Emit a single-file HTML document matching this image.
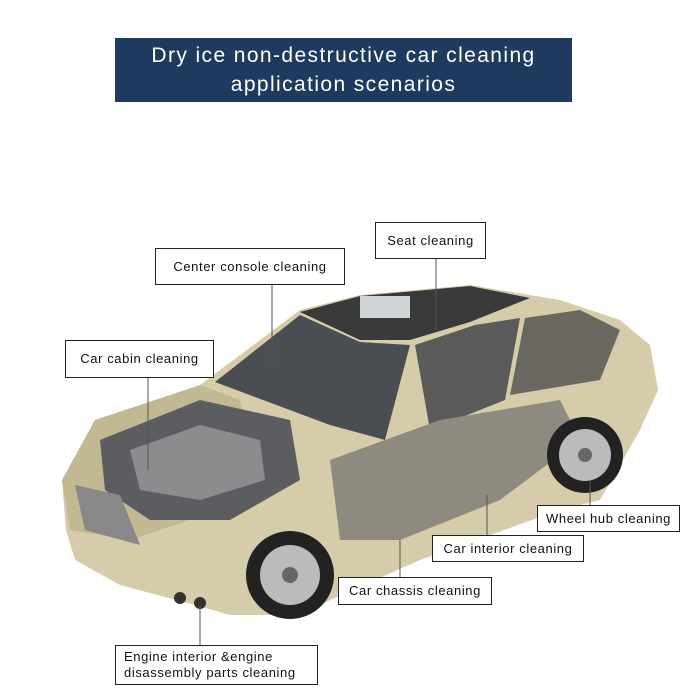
<!DOCTYPE html>
<html><head><meta charset="utf-8"><style>
body{margin:0;background:#fff;}
.wrap{position:relative;width:700px;height:700px;overflow:hidden;background:#fff;font-family:"Liberation Sans",sans-serif;}
.title{position:absolute;left:115px;top:38px;width:457px;height:64px;background:#1e3a5f;color:#fff;font-size:21px;letter-spacing:1.4px;text-align:center;line-height:29px;padding-top:3px;box-sizing:border-box;}
.lb{position:absolute;background:#fff;border:1.5px solid #222;font-size:13px;color:#111;letter-spacing:0.6px;box-sizing:border-box;display:flex;align-items:center;justify-content:center;text-align:center;line-height:16px;}
</style></head><body><div class="wrap">
<div class="title">Dry ice non-destructive car cleaning<br>application scenarios</div>
<svg width="700" height="700" style="position:absolute;left:0;top:0">
<polygon points="62,480 95,420 200,385 300,310 360,295 470,285 560,300 620,320 650,345 658,390 640,430 600,500 560,510 420,560 330,600 300,615 230,615 195,605 120,585 75,560 66,530" fill="#d6ccaa"/>
<polygon points="62,480 95,420 200,385 240,400 250,460 190,520 130,540 70,530" fill="#c2b892"/>
<polygon points="300,312 360,296 470,286 530,298 470,322 410,340 360,340" fill="#3a3a3a"/>
<polygon points="215,382 300,315 360,342 410,345 385,440 330,425" fill="#4a4d52"/>
<polygon points="415,345 475,325 520,318 505,400 430,430" fill="#5a5a5a"/>
<polygon points="525,318 580,310 620,330 600,380 510,395" fill="#6a6660"/>
<rect x="360" y="296" width="50" height="22" fill="#cfd4d6"/>
<polygon points="100,440 200,400 290,420 300,480 230,520 150,520 105,490" fill="#5b5d60"/>
<polygon points="130,450 200,425 260,440 265,480 200,500 140,490" fill="#8a8c8e"/>
<polygon points="330,460 440,420 560,400 580,440 500,500 400,540 340,540" fill="#8e8a80"/>
<polygon points="75,485 120,495 140,545 85,530" fill="#888"/>
<circle cx="290" cy="575" r="44" fill="#222"/><circle cx="290" cy="575" r="30" fill="#bbb"/><circle cx="290" cy="575" r="8" fill="#666"/>
<circle cx="585" cy="455" r="38" fill="#222"/><circle cx="585" cy="455" r="26" fill="#bbb"/><circle cx="585" cy="455" r="7" fill="#666"/>
<circle cx="180" cy="598" r="6" fill="#333"/><circle cx="200" cy="603" r="6" fill="#333"/>
<g stroke="#555" stroke-width="1">
<line x1="436" y1="259" x2="436" y2="330"/>
<line x1="272" y1="285" x2="272" y2="375"/>
<line x1="148" y1="378" x2="148" y2="470"/>
<line x1="590" y1="505" x2="590" y2="480"/>
<line x1="487" y1="535" x2="487" y2="495"/>
<line x1="400" y1="577" x2="400" y2="540"/>
<line x1="200" y1="645" x2="200" y2="605"/>
</g>
</svg>
<div class="lb" style="left:375px;top:222px;width:111px;height:37px">Seat cleaning</div>
<div class="lb" style="left:155px;top:248px;width:190px;height:37px">Center console cleaning</div>
<div class="lb" style="left:65px;top:340px;width:149px;height:38px">Car cabin cleaning</div>
<div class="lb" style="left:537px;top:505px;width:143px;height:27px">Wheel hub cleaning</div>
<div class="lb" style="left:432px;top:535px;width:152px;height:27px">Car interior cleaning</div>
<div class="lb" style="left:338px;top:577px;width:154px;height:28px">Car chassis cleaning</div>
<div class="lb" style="left:115px;top:645px;width:203px;height:40px;justify-content:flex-start;text-align:left;padding-left:8px">Engine interior &amp;engine<br>disassembly parts cleaning</div>
</div></body></html>
